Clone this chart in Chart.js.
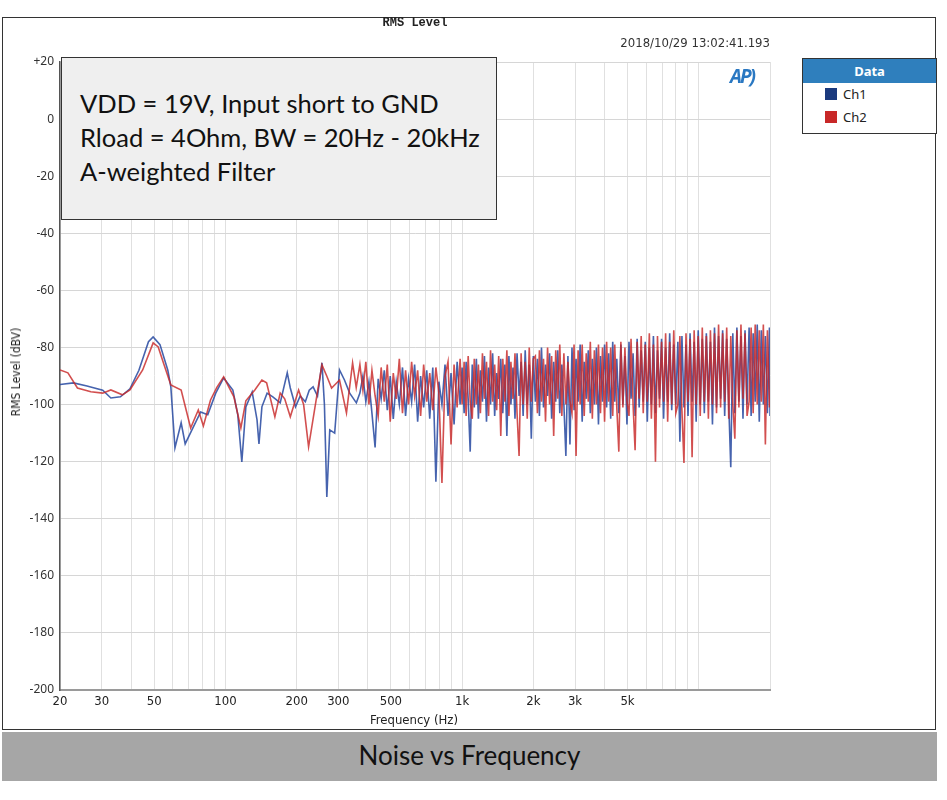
<!DOCTYPE html>
<html>
<head>
<meta charset="utf-8">
<script src="https://cdn.jsdelivr.net/npm/chart.js@4.4.1/dist/chart.umd.min.js"></script>
<style>
  body { margin: 0; background: #fff; width: 947px; height: 800px; position: relative; overflow: hidden; font-family: 'Noto Sans', sans-serif; }
  #frame { position: absolute; left: 2px; top: 17px; width: 934px; height: 713px; border: 1px solid #333; box-sizing: border-box; }
  #band { position: absolute; left: 2px; top: 732px; width: 935px; height: 49px; background: #a6a6a6; color: #111;
          font: 26px Lato, 'Open Sans', sans-serif; text-align: center; line-height: 47px; }
  #wrap { position: absolute; left: 0; top: 0; width: 947px; height: 730px; }
  .abs { position: absolute; white-space: nowrap; }
  #title { left: 0; width: 830px; top: 16px; text-align: center; font: bold 12px 'Liberation Mono', monospace; color: #222; }
  #stamp { right: 177px; top: 35px; font: 13px 'Liberation Sans Narrow', 'DejaVu Sans Condensed', sans-serif; color: #333; }
  #note { left: 61px; top: 57px; width: 436px; height: 163px; background: #efefef; border: 1.5px solid #333; box-sizing: border-box;
          font: 25.5px Lato, 'Open Sans', sans-serif; color: #111; padding: 28px 0 0 18px; line-height: 34px; }
  #logo { left: 730px; top: 63px; font: italic bold 19px 'Noto Sans', sans-serif; color: #2a78c2; letter-spacing: -2px; }
  #legend { left: 802px; top: 58px; width: 135px; height: 76px; border: 1.5px solid #333; box-sizing: border-box; background: #fff; }
  #legend .hd { background: #2f7fbd; color: #fff; font: bold 13px 'Noto Sans', sans-serif; text-align: center; height: 24px; line-height: 24px; }
  #legend .row { position: relative; height: 23px; font: 13px 'Noto Sans', sans-serif; color: #222; line-height: 23px; padding-left: 40px; }
  #legend .sw { position: absolute; left: 22px; top: 5px; width: 12px; height: 12px; }
  #ytitle { left: 16px; top: 372px; font: 12px 'Liberation Sans Narrow', 'DejaVu Sans Condensed', sans-serif; color: #222;
            transform: translate(-50%, -50%) rotate(-90deg); }
  #xtitle { left: 414px; top: 712px; transform: translateX(-50%); font: 13px 'Liberation Sans Narrow', 'DejaVu Sans Condensed', sans-serif; color: #222; }
</style>
</head>
<body>
<div id="frame"></div>
<div id="wrap"><canvas id="c"></canvas></div>
<div class="abs" id="title">RMS Level</div>
<div class="abs" id="stamp">2018/10/29 13:02:41.193</div>
<div class="abs" id="logo">AP)</div>
<div class="abs" id="note">VDD = 19V, Input short to GND<br>Rload = 4Ohm, BW = 20Hz - 20kHz<br>A-weighted Filter</div>
<div class="abs" id="legend">
  <div class="hd">Data</div>
  <div class="row"><span class="sw" style="background:#1b3a7e"></span>Ch1</div>
  <div class="row"><span class="sw" style="background:#c82828"></span>Ch2</div>
</div>
<div class="abs" id="ytitle">RMS Level (dBV)</div>
<div class="abs" id="xtitle">Frequency (Hz)</div>
<div id="band">Noise vs Frequency</div>
<script>
// --------------------------------------------------
// Data (Hz, dBV)
// --------------------------------------------------
const ch1LowFreq  = [20, 22.8, 26, 30.3, 32.8, 36, 39.5, 43.1, 47.3, 49.5, 52.9, 57.1, 58.8, 61.2, 65, 67.6, 72.2, 78.6, 84.2, 91,
                     98.3, 107.5, 112.8, 117.3, 122, 129.7, 136, 138.6, 142.6, 150, 158.6, 170.4, 182.5, 188, 197.8, 207, 217.6, 226, 234.7, 245,
                     255.8, 262, 268.2, 276, 289.5, 303.5, 318.4, 335, 357.5];
const ch1LowLevel = [-93, -92.4, -93.5, -95, -97.7, -97.3, -94.5, -88, -78, -76.3, -79, -88, -93.8, -115.2, -106.4, -113.8, -108.9, -102.6, -103.6, -96,
                     -90.7, -94.9, -103.6, -120.1, -100.8, -95.6, -105.4, -113.8, -100.8, -96, -97.3, -99.4, -88.9, -94.2, -100.8, -97, -99, -95, -93.8, -97,
                     -85.4, -100, -132.4, -108.9, -110, -87.9, -91.4, -96, -99.4];

const ch2LowFreq  = [20, 21.6, 23.7, 27, 30.3, 32.8, 36.7, 39.5, 44.7, 49.5, 52, 55, 58.8, 65, 71.3, 76.8, 80.7, 86.5, 92, 98.3,
                     108.6, 116.2, 122, 133.1, 142.6, 149.3, 161.8, 170.4, 178, 188, 203.8, 214, 224.6, 245.6, 255.8, 268, 280.9, 303.5, 324.7, 344.6, 357];
const ch2LowLevel = [-87.9, -88.9, -94.2, -95.5, -96, -94.9, -96.6, -94.9, -87.9, -78.4, -79.8, -86, -93.1, -94.9, -108.2, -101.9, -107.5, -98.4, -94, -90.3,
                     -97.3, -108.2, -98.7, -94.9, -91.4, -92.4, -104.3, -96, -98, -104.3, -94.9, -100, -114.8, -94.9, -86.1, -90, -94.2, -91.4, -102.9, -85.4, -94];

// dense part of the spectrum, same bins for both channels
const hfFreq = [370, 381, 392, 404, 416, 429, 442, 455, 469, 483, 497, 512, 527, 543, 560, 577, 594, 612, 630, 649,
                668, 688, 709, 730, 752, 775, 798, 822, 847, 872, 898, 925, 953, 981,
                1000, 1020, 1040, 1061, 1082, 1104, 1126, 1149, 1172, 1195, 1219, 1243, 1268, 1294, 1319, 1346, 1373, 1400, 1428, 1457,
                1486, 1516, 1546, 1577, 1608, 1641, 1673, 1707, 1741, 1776, 1811, 1848, 1885, 1922, 1961, 2000,
                2040, 2081, 2122, 2165, 2208, 2252, 2297, 2343, 2390, 2438, 2487, 2536, 2587, 2639, 2692, 2745, 2800, 2856, 2913, 2972,
                3031, 3092, 3154, 3217, 3281, 3347, 3414, 3482, 3551, 3622, 3695, 3769, 3844, 3921, 4000,
                4080, 4162, 4245, 4330, 4416, 4505, 4595, 4687, 4780, 4876, 4973, 5073, 5174, 5278, 5383, 5491, 5600, 5712, 5827, 5943,
                6062, 6183, 6307, 6433, 6562, 6693, 6827, 6963, 7103, 7245, 7390, 7537, 7688, 7842, 8000,
                8160, 8323, 8490, 8659, 8833, 9009, 9189, 9373, 9561, 9752, 9947, 10146, 10349, 10556, 10767, 10982, 11202, 11426, 11655, 11888,
                12126, 12368, 12616, 12868, 13125, 13388, 13655, 13929, 14207, 14491, 14781, 15077, 15378, 15686, 16000,
                16320, 16646, 16979, 17319, 17665, 18019, 18379, 18747, 19121, 19504, 19894, 20000];
const ch1HfLevel = [-96, -90, -99, -92, -103, -115, -91, -98, -88, -102, -90, -105, -92, -100, -87, -104, -91, -99, -86, -106,
                    -90, -101, -88, -105, -87, -127, -92, -100, -86, -104, -89, -107, -85, -100,
                    -87, -103, -85, -98, -116.5, -86, -101, -84, -105, -88, -99, -83, -106, -87, -100, -82, -104, -89, -98, -84,
                    -103, -86, -111, -83, -100, -87, -105, -82, -97, -85, -104, -81, -100, -86, -112, -83,
                    -99, -84, -104, -80, -101, -86, -97, -82, -105, -85, -99, -81, -103, -86, -100, -118, -83, -114, -80, -102,
                    -84, -99, -79, -106, -85, -98, -81, -103, -84, -100, -80, -107, -83, -99, -79,
                    -101, -82, -105, -78, -99, -84, -103, -79, -100, -83, -107, -78, -98, -82, -104, -77, -101, -81, -99, -78,
                    -106, -80, -100, -76, -103, -81, -98, -77, -105, -80, -99, -75, -102, -79, -100,
                    -78, -113, -76, -101, -79, -104, -75, -99, -78, -106, -74, -100, -77, -103, -75, -99, -78, -107, -73, -101,
                    -76, -98, -74, -104, -77, -100, -122, -75, -103, -73, -99, -76, -105, -74, -100,
                    -73, -104, -75, -99, -72, -106, -74, -100, -76, -103, -73, -104];
const ch2HfLevel = [-86, -95, -85, -100, -88, -97, -104, -87, -99, -86, -106, -89, -98, -84, -103, -88, -100, -85, -97, -88,
                    -104, -86, -99, -89, -102, -87, -96, -127.5, -90, -85, -114, -86, -101, -84,
                    -100, -85, -104, -83, -99, -105, -84, -100, -86, -103, -82, -98, -85, -104, -81, -99, -86, -102, -83, -111,
                    -84, -99, -81, -104, -85, -98, -82, -103, -118, -82, -100, -85, -105, -80, -99, -84,
                    -83, -103, -81, -99, -84, -106, -80, -100, -83, -111, -81, -98, -79, -104, -82, -100, -85, -99, -103, -79,
                    -118, -81, -100, -79, -104, -82, -99, -78, -105, -81, -100, -79, -103, -80, -106,
                    -78, -99, -80, -104, -79, -101, -116.5, -78, -101, -80, -99, -104, -77, -100, -116, -78, -98, -76, -103, -79,
                    -99, -75, -105, -79, -120, -76, -101, -78, -99, -75, -106, -78, -100, -74, -103,
                    -100, -76, -102, -120.5, -75, -99, -77, -118.5, -74, -100, -76, -104, -73, -99, -76, -105, -74, -100, -75, -103,
                    -72, -101, -75, -99, -73, -105, -76, -100, -112, -74, -101, -72, -98, -75, -104,
                    -99, -73, -103, -72, -100, -74, -99, -72, -114, -74, -101, -97];

// x grid at every 1..9 step of each decade, labels on a few of them
const freqGrid   = [20, 30, 40, 50, 60, 70, 80, 90, 100, 200, 300, 400, 500, 600, 700, 800, 900,
                    1000, 2000, 3000, 4000, 5000, 6000, 7000, 8000, 9000, 10000, 20000];
const freqLabels = { 20: '20', 30: '30', 50: '50', 100: '100', 200: '200', 300: '300', 500: '500',
                     1000: '1k', 2000: '2k', 3000: '3k', 5000: '5k' };

const toPoints = (fs, vs) => fs.map((f, i) => ({ x: f, y: vs[i] }));
const ch1Points = toPoints(ch1LowFreq.concat(hfFreq), ch1LowLevel.concat(ch1HfLevel));
const ch2Points = toPoints(ch2LowFreq.concat(hfFreq), ch2LowLevel.concat(ch2HfLevel));

const tickFont = { family: "'Liberation Sans Narrow', 'DejaVu Sans Condensed', sans-serif", size: 13 };

new Chart(document.getElementById('c'), {
    type: 'line',
    data: {
        datasets: [{
            label: 'Ch1',
            data: ch1Points,
            borderColor: 'rgba(38, 72, 160, 0.85)',
            borderWidth: 1.6,
            pointRadius: 0,
            tension: 0,
            order: 2
        }, {
            label: 'Ch2',
            data: ch2Points,
            borderColor: 'rgba(200, 40, 40, 0.82)',
            borderWidth: 1.6,
            pointRadius: 0,
            tension: 0,
            order: 1
        }]
    },
    options: {
        responsive: true,
        maintainAspectRatio: false,
        animation: false,
        layout: { padding: { left: 0, top: 62, right: 177, bottom: 0 } },
        scales: {
            x: {
                type: 'logarithmic',
                min: 20,
                max: 20000,
                afterBuildTicks: (scale) => { scale.ticks = freqGrid.map(v => ({ value: v })); },
                afterFit: (scale) => { scale.height = 40; },
                ticks: {
                    autoSkip: false,
                    maxRotation: 0,
                    padding: 4,
                    color: '#222',
                    font: tickFont,
                    callback: (v) => freqLabels[v] || ''
                },
                grid: { color: '#e0e0e0', lineWidth: 1, drawTicks: false },
                border: { color: '#9a9a9a', width: 2 }
            },
            y: {
                type: 'linear',
                min: -200,
                max: 20,
                afterFit: (scale) => { scale.width = 60; },
                ticks: {
                    stepSize: 20,
                    padding: 6,
                    color: '#333',
                    font: { family: "'Noto Sans', sans-serif", size: 12 },
                    callback: (v) => v === 20 ? '+20' : String(v)
                },
                grid: { color: '#d6d6d6', lineWidth: 1, drawTicks: false },
                border: { color: '#555', width: 1.5 }
            }
        },
        plugins: {
            legend: { display: false },
            tooltip: { enabled: false }
        }
    }
});
</script>
</body>
</html>
